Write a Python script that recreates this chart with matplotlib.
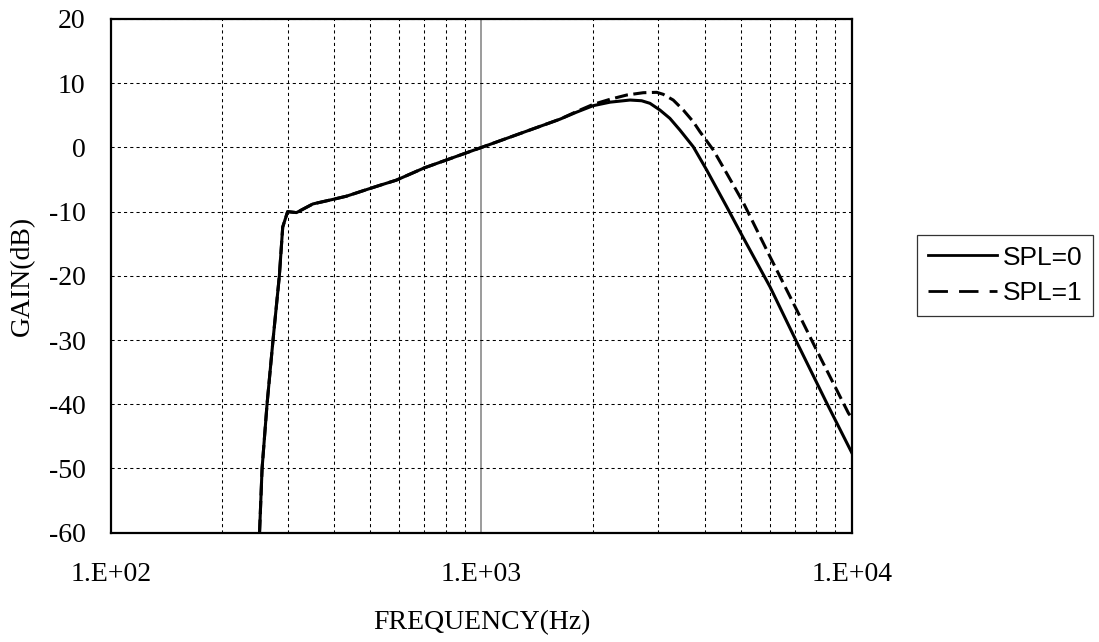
import matplotlib
matplotlib.use("Agg")
import matplotlib.pyplot as plt
from matplotlib.ticker import LogLocator, FixedLocator, NullFormatter

plt.rcParams["axes.unicode_minus"] = False

# ---- data ----
freq_spl0 = [252, 256, 264, 274, 285, 291, 300, 317, 351, 397, 432, 500, 532, 589,
             700, 1000, 1628, 1806, 2000, 2222, 2515, 2703, 2846, 3027, 3221, 3428,
             3725, 4047, 4581, 4977, 5998, 7080, 8547, 10000]
gain_spl0 = [-60, -50, -40, -30, -20, -12.4, -10.0, -10.15, -8.8, -8.1, -7.6, -6.4, -5.9, -5.1,
             -3.2, 0.0, 4.4, 5.5, 6.5, 7.05, 7.38, 7.27, 6.87, 5.83, 4.53, 2.71,
             0.1, -3.5, -9.2, -13.1, -21.7, -30.3, -39.9, -47.7]

freq_spl1 = [252, 256, 264, 274, 285, 291, 300, 317, 351, 397, 432, 500, 532, 589,
             700, 1000, 1628, 1806, 2000, 2222, 2464, 2730, 2969, 3091, 3289, 3500,
             3725, 3882, 4218, 4581, 5082, 5998, 7080, 8017, 9766, 10000]
gain_spl1 = [-60, -50, -40, -30, -20, -12.4, -10.0, -10.15, -8.8, -8.1, -7.6, -6.4, -5.9, -5.1,
             -3.2, 0.0, 4.4, 5.6, 6.7, 7.5, 8.16, 8.52, 8.58, 8.27, 7.38, 5.83,
             4.0, 2.45, -0.4, -4.0, -8.6, -17.0, -25.3, -31.6, -41.4, -42.2]

y_ticks = [-60, -50, -40, -30, -20, -10, 0, 10, 20]
x_ticks = [100, 1000, 10000]
x_tick_labels = ["1.E+02", "1.E+03", "1.E+04"]
series_labels = ["SPL=0", "SPL=1"]

serif = ["Liberation Serif", "DejaVu Serif"]
sans = ["Liberation Sans", "DejaVu Sans"]

fig = plt.figure(figsize=(10.99, 6.42), dpi=100)
ax = fig.add_axes([110.7 / 1099, 1 - 532.7 / 642, (852.3 - 110.7) / 1099, (532.7 - 19) / 642])

ax.set_xscale("log")
ax.set_xlim(100, 10000)
ax.set_ylim(-60, 20)

# grid
ax.xaxis.set_major_locator(FixedLocator(x_ticks))
ax.xaxis.set_minor_locator(LogLocator(base=10, subs=range(2, 10)))
ax.xaxis.set_minor_formatter(NullFormatter())
ax.set_yticks(y_ticks)
ax.grid(True, which="major", axis="x", color="#808080", linestyle="-", linewidth=1.1)
ax.grid(True, which="minor", axis="x", color="black", linestyle=(0, (3, 3)), linewidth=0.75)
ax.grid(True, which="major", axis="y", color="black", linestyle=(0, (3, 3)), linewidth=0.75)
ax.set_axisbelow(True)

l0, = ax.plot(freq_spl0, gain_spl0, color="black", linewidth=2.2, solid_joinstyle="round",
              label=series_labels[0])
l1, = ax.plot(freq_spl1, gain_spl1, color="black", linewidth=2.2, linestyle=(0, (4.3, 1.8)),
              label=series_labels[1])

ax.set_xticks(x_ticks)
ax.set_xticklabels(x_tick_labels)
ax.tick_params(axis="both", which="both", length=0)
ax.tick_params(axis="x", pad=21)
ax.tick_params(axis="y", pad=18)
for lab in ax.get_xticklabels() + ax.get_yticklabels():
    lab.set_fontfamily(serif)
    lab.set_fontsize(20)

for s in ax.spines.values():
    s.set_linewidth(1.6)
    s.set_color("black")

fig.text(482 / 1099, 1 - 623 / 642, "FREQUENCY(Hz)", ha="center", va="center",
         fontsize=20, family=serif)
fig.text(22 / 1099, 1 - 275.8 / 642, "GAIN(dB)", ha="center", va="center", rotation=90,
         fontsize=20, family=serif)

leg = fig.legend(handles=[l0, l1], labels=series_labels,
                 loc="lower left", bbox_to_anchor=(917 / 1099, 1 - 316 / 642),
                 bbox_transform=fig.transFigure, borderaxespad=0,
                 frameon=True, fancybox=False, shadow=False,
                 prop={"family": sans, "size": 19},
                 handlelength=2.65, handletextpad=0.22, borderpad=0.4, labelspacing=0.45)
leg.get_frame().set_edgecolor("black")
leg.get_frame().set_linewidth(0.9)
hl = leg.get_lines()
for h in hl:
    h.set_linewidth(2.0)
hl[1].set_dashes([7.0, 4.0])

fig.savefig("out.png", dpi=100)
